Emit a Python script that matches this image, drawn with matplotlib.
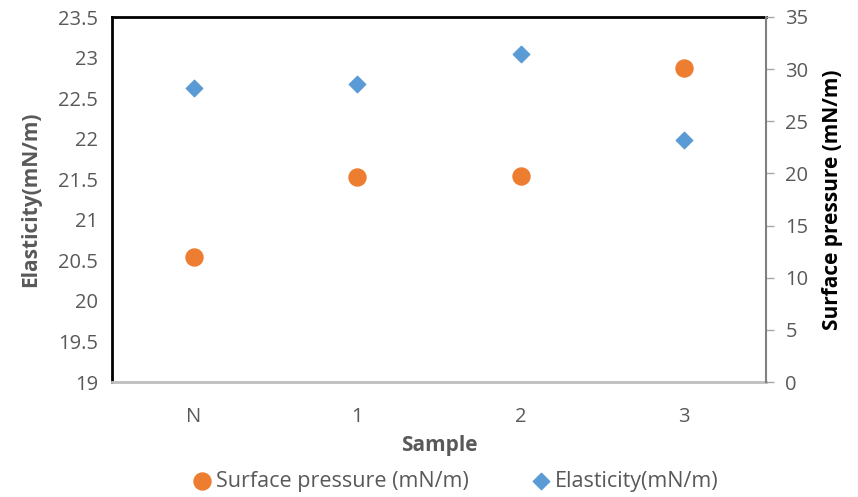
import numpy as np
import matplotlib.pyplot as plt

samples = ["N", "1", "2", "3"]
elasticity = [22.63, 22.67, 23.05, 21.98]
surface_pressure = [12.0, 19.7, 19.75, 30.1]

plt.rcParams['font.family'] = ['Open Sans', 'DejaVu Sans']
gray = "#595959"

fig = plt.figure(figsize=(8.58, 4.97), dpi=100)
ax = fig.add_axes([112/858, 1 - 382/497, 654/858, 365/497])
ax2 = ax.twinx()

x = np.arange(len(samples))
sp = ax2.scatter(x, surface_pressure, s=150, c="#ED7D31", marker="o", zorder=3,
                 label="Surface pressure (mN/m)")
el = ax.scatter(x, elasticity, s=70, c="#5B9BD5", marker="D", zorder=3,
                label="Elasticity(mN/m)")

ax.set_xlim(-0.5, 3.5)
ax.set_ylim(19, 23.5)
ax.set_yticks(np.arange(19, 23.51, 0.5))
ax.set_yticklabels(["19", "19.5", "20", "20.5", "21", "21.5", "22", "22.5", "23", "23.5"])
ax2.set_ylim(0, 35)
ax2.set_yticks(range(0, 36, 5))
ax.set_xticks(x)
ax.set_xticklabels(samples)

for a in (ax, ax2):
    a.tick_params(labelsize=14.5, colors=gray)
ax.tick_params(axis="x", length=0, pad=18)
ax.tick_params(axis="y", length=0, pad=10)
ax2.tick_params(axis="y", length=6, width=1, color="#a6a6a6", pad=8)

ax.spines["left"].set_color("black")
ax.spines["left"].set_linewidth(2)
ax.spines["top"].set_color("black")
ax.spines["top"].set_linewidth(2)
ax.spines["bottom"].set_color("#bfbfbf")
ax.spines["bottom"].set_linewidth(2)
ax2.spines["right"].set_color("#808080")
ax2.spines["right"].set_linewidth(1.5)
for s in ("left", "top", "bottom"):
    ax2.spines[s].set_visible(False)
ax.spines["right"].set_visible(False)

ax.set_ylabel("Elasticity(mN/m)", fontsize=15, fontweight="bold", color=gray, labelpad=12)
ax2.set_ylabel("Surface pressure (mN/m)", fontsize=15, fontweight="bold", color="black", labelpad=10)
ax.set_xlabel("Sample", fontsize=15, fontweight="bold", color=gray, labelpad=6)

leg = fig.legend(handles=[sp, el], loc="center", bbox_to_anchor=(452/858, 1 - 481/497),
                 ncol=2, frameon=False, fontsize=15.5, handletextpad=-0.1, columnspacing=2.6,
                 scatterpoints=1, markerscale=1.0, handlelength=1.5)
for t in leg.get_texts():
    t.set_color(gray)

fig.savefig("out.png", dpi=100)
